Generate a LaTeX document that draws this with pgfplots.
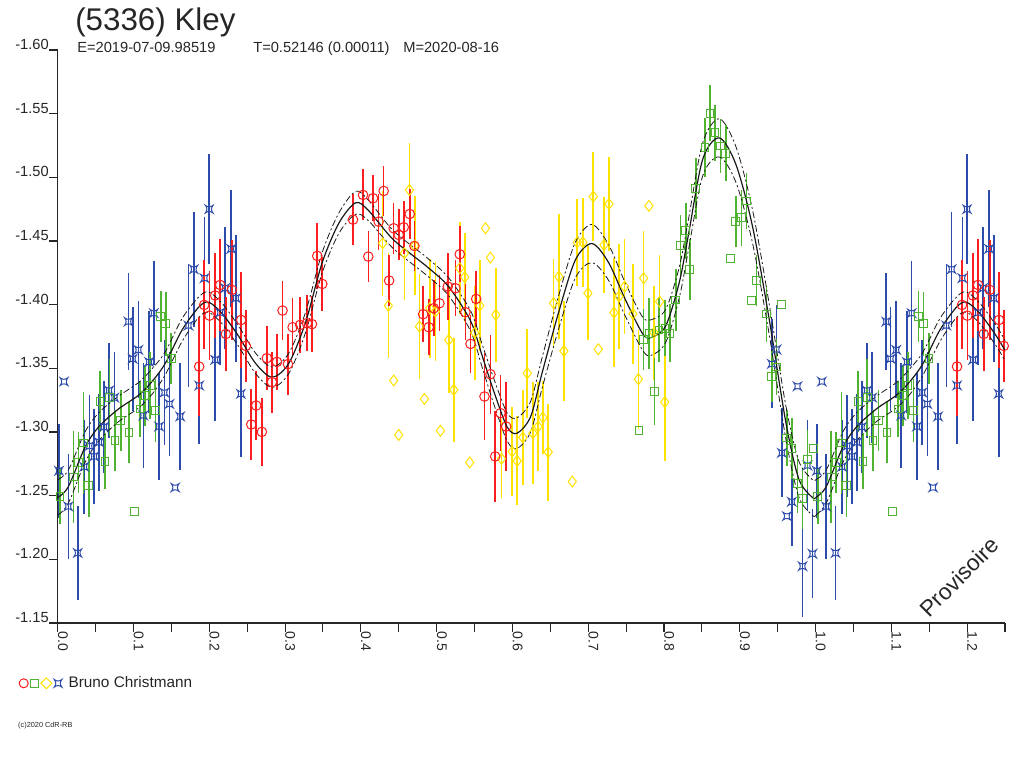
\documentclass[border=0pt]{standalone}
\usepackage{fontspec}
\setmainfont{Liberation Sans}
\usepackage{pgfplots}
\usepackage{pgfplotstable}
\pgfplotsset{compat=1.18}

\definecolor{cred}{RGB}{250,30,30}
\definecolor{cgreen}{RGB}{80,180,50}
\definecolor{cyellow}{RGB}{255,226,0}
\definecolor{cblue}{RGB}{45,75,170}

\pgfdeclareplotmark{astar}{%
  \pgfpathmoveto{\pgfqpoint{-\pgfplotmarksize}{-\pgfplotmarksize}}%
  \pgfpathcurveto{\pgfqpoint{-0.3\pgfplotmarksize}{-0.45\pgfplotmarksize}}{\pgfqpoint{0.3\pgfplotmarksize}{-0.45\pgfplotmarksize}}{\pgfqpoint{\pgfplotmarksize}{-\pgfplotmarksize}}%
  \pgfpathcurveto{\pgfqpoint{0.45\pgfplotmarksize}{-0.3\pgfplotmarksize}}{\pgfqpoint{0.45\pgfplotmarksize}{0.3\pgfplotmarksize}}{\pgfqpoint{\pgfplotmarksize}{\pgfplotmarksize}}%
  \pgfpathcurveto{\pgfqpoint{0.3\pgfplotmarksize}{0.45\pgfplotmarksize}}{\pgfqpoint{-0.3\pgfplotmarksize}{0.45\pgfplotmarksize}}{\pgfqpoint{-\pgfplotmarksize}{\pgfplotmarksize}}%
  \pgfpathcurveto{\pgfqpoint{-0.45\pgfplotmarksize}{0.3\pgfplotmarksize}}{\pgfqpoint{-0.45\pgfplotmarksize}{-0.3\pgfplotmarksize}}{\pgfqpoint{-\pgfplotmarksize}{-\pgfplotmarksize}}%
  \pgfpathclose\pgfusepathqstroke}

\pgfplotstableread{
x y e
0.0017 -1.2695 0.037
0.0083 -1.3396 0
0.0140 -1.2415 0.041
0.0264 -1.2050 0.037
0.0350 -1.2727 0.037
0.0418 -1.2890 0.040
0.0480 -1.2808 0.037
0.0546 -1.2920 0.038
0.0610 -1.3040 0.036
0.0678 -1.3326 0.037
0.0748 -1.3270 0.036
0.0933 -1.3867 0.038
0.0990 -1.3575 0.041
0.1065 -1.3645 0.038
0.1130 -1.3130 0.041
0.1206 -1.3550 0.040
0.1268 -1.3933 0.041
0.1338 -1.3043 0.042
0.1408 -1.3310 0.041
0.1475 -1.3220 0.041
0.1550 -1.2564 0
0.1616 -1.3122 0.042
0.1726 -1.3836 0.048
0.1796 -1.4278 0.045
0.1867 -1.3365 0.046
0.1937 -1.4208 0.048
0.1999 -1.4750 0.043
0.2078 -1.3567 0.048
0.2144 -1.3938 0.041
0.2210 -1.4130 0.048
0.2289 -1.4438 0.046
0.2351 -1.4051 0.050
0.2417 -1.3300 0.050
0.9423 -1.3535 0.035
0.9485 -1.3648 0.035
0.9555 -1.2836 0.035
0.9621 -1.2339 0
0.9687 -1.2452 0.035
0.9762 -1.3359 0
0.9828 -1.1946 0.040
0.9894 -1.2737 0.036
0.9960 -1.2044 0.035
}\blue

\pgfplotstableread{
x y e
0.0030 -1.2494 0.022
0.0206 -1.2646 0.036
0.0272 -1.2760 0.024
0.0343 -1.2913 0.040
0.0410 -1.2580 0.025
0.0559 -1.3240 0.024
0.0625 -1.2769 0.022
0.0682 -1.3270 0.030
0.0757 -1.2933 0.024
0.0832 -1.3090 0.024
0.0942 -1.2996 0.024
0.1012 -1.2376 0
0.1087 -1.3180 0.022
0.1153 -1.3286 0.024
0.1220 -1.3365 0.026
0.1290 -1.3170 0.025
0.1360 -1.3907 0.020
0.1426 -1.3850 0.025
0.1497 -1.3575 0.020
0.7670 -1.3009 0
0.7732 -1.3729 0.024
0.7802 -1.3776 0.028
0.7873 -1.3318 0.026
0.7934 -1.3802 0.025
0.8013 -1.3815 0.022
0.8079 -1.3776 0.023
0.8155 -1.4037 0.024
0.8220 -1.4464 0.024
0.8287 -1.4582 0.022
0.8340 -1.4275 0.024
0.8419 -1.4914 0.024
0.8542 -1.5233 0.023
0.8608 -1.5503 0.022
0.8674 -1.5351 0.022
0.8745 -1.5246 0.021
0.8815 -1.5189 0.022
0.8881 -1.4365 0
0.8947 -1.4652 0.020
0.9022 -1.4684 0.022
0.9089 -1.4815 0.022
0.9159 -1.4032 0
0.9220 -1.4190 0.020
0.9353 -1.3926 0.022
0.9423 -1.3438 0.020
0.9485 -1.3511 0.022
0.9555 -1.4000 0
0.9621 -1.2954 0.022
0.9687 -1.2868 0.024
0.9762 -1.2593 0.023
0.9828 -1.2475 0.024
0.9894 -1.2784 0.023
0.9969 -1.2868 0
}\green

\pgfplotstableread{
x y e
0.1867 -1.3514 0.039
0.1933 -1.3998 0.035
0.2003 -1.3914 0.035
0.2078 -1.4072 0.033
0.2144 -1.4155 0.036
0.2219 -1.3770 0.029
0.2298 -1.4116 0.039
0.2421 -1.3880 0.038
0.2483 -1.3676 0.028
0.2554 -1.3059 0.028
0.2620 -1.3208 0.027
0.2694 -1.3001 0.027
0.2760 -1.3580 0.025
0.2827 -1.3392 0.024
0.2893 -1.3551 0.022
0.2967 -1.3954 0.023
0.3038 -1.3533 0.024
0.3100 -1.3823 0.023
0.3200 -1.3841 0.022
0.3289 -1.3855 0.022
0.3355 -1.3847 0.022
0.3425 -1.4383 0.026
0.3491 -1.4163 0.021
0.3897 -1.4668 0.020
0.4029 -1.4862 0.020
0.4099 -1.4378 0.020
0.4161 -1.4836 0.018
0.4235 -1.4652 0.022
0.4301 -1.4893 0.020
0.4373 -1.4189 0.020
0.4433 -1.4600 0.020
0.4500 -1.4548 0.020
0.4566 -1.4608 0.021
0.4645 -1.4712 0.020
0.4707 -1.4461 0.020
0.4822 -1.3925 0.022
0.4896 -1.3823 0.022
0.4962 -1.3972 0.022
0.5037 -1.4011 0.022
0.5147 -1.4142 0.026
0.5248 -1.4129 0.022
0.5305 -1.4396 0.022
0.5380 -1.3941 0.022
0.5447 -1.3692 0.023
0.5522 -1.4045 0.022
0.5632 -1.3279 0.034
0.5710 -1.3454 0.031
0.5773 -1.2808 0.036
0.5843 -1.3148 0.030
0.5918 -1.3043 0.035
}\red

\pgfplotstableread{
x y e
0.4288 -1.4482 0.041
0.4363 -1.3992 0.041
0.4433 -1.3404 0
0.4500 -1.2977 0
0.4575 -1.4404 0.037
0.4641 -1.4901 0.037
0.4711 -1.4464 0.039
0.4773 -1.3828 0.041
0.4839 -1.3260 0
0.4909 -1.3972 0.039
0.4984 -1.3945 0.039
0.5050 -1.3010 0
0.5160 -1.3723 0.042
0.5226 -1.3331 0.041
0.5305 -1.4286 0.036
0.5371 -1.4216 0.035
0.5437 -1.2761 0
0.5503 -1.3780 0.037
0.5570 -1.3993 0.036
0.5645 -1.4600 0
0.5710 -1.4370 0
0.5781 -1.3920 0.037
0.5856 -1.2790 0.031
0.5997 -1.2847 0.035
0.6063 -1.2773 0.035
0.6138 -1.2957 0.037
0.6196 -1.3462 0.035
0.6270 -1.2991 0.040
0.6340 -1.3043 0.035
0.6402 -1.3114 0.029
0.6473 -1.2842 0.038
0.6543 -1.4012 0.035
0.6613 -1.4220 0.049
0.6679 -1.3637 0.039
0.6790 -1.2611 0
0.6856 -1.4490 0.034
0.6930 -1.4490 0.035
0.6996 -1.4090 0.037
0.7067 -1.4849 0.035
0.7133 -1.3650 0
0.7208 -1.4469 0.038
0.7274 -1.4791 0.037
0.7340 -1.3938 0.043
0.7406 -1.4064 0.041
0.7481 -1.4142 0.037
0.7590 -1.3928 0.039
0.7662 -1.3415 0.039
0.7732 -1.4208 0.037
0.7802 -1.4776 0
0.7868 -1.3780 0.037
0.7943 -1.4024 0.037
0.8010 -1.3235 0.046
}\yellow

\pgfplotstableread{
x m lo hi
0.000 -1.2485 -1.2625 -1.2345
0.014 -1.2570 -1.2700 -1.2440
0.036 -1.2880 -1.3000 -1.2760
0.054 -1.3040 -1.3150 -1.2930
0.080 -1.3180 -1.3280 -1.3080
0.107 -1.3290 -1.3390 -1.3190
0.125 -1.3400 -1.3500 -1.3300
0.142 -1.3540 -1.3630 -1.3450
0.164 -1.3800 -1.3890 -1.3710
0.186 -1.3980 -1.4060 -1.3900
0.199 -1.4020 -1.4100 -1.3940
0.217 -1.3930 -1.4010 -1.3850
0.239 -1.3750 -1.3830 -1.3670
0.261 -1.3540 -1.3620 -1.3460
0.283 -1.3430 -1.3510 -1.3350
0.305 -1.3540 -1.3620 -1.3460
0.327 -1.3860 -1.3940 -1.3780
0.349 -1.4330 -1.4410 -1.4250
0.371 -1.4640 -1.4720 -1.4560
0.393 -1.4800 -1.4890 -1.4710
0.410 -1.4740 -1.4820 -1.4660
0.443 -1.4510 -1.4580 -1.4440
0.487 -1.4300 -1.4370 -1.4230
0.516 -1.4140 -1.4210 -1.4070
0.545 -1.3870 -1.3950 -1.3790
0.560 -1.3600 -1.3690 -1.3510
0.576 -1.3310 -1.3410 -1.3210
0.593 -1.3040 -1.3150 -1.2930
0.606 -1.2990 -1.3110 -1.2870
0.624 -1.3120 -1.3240 -1.3000
0.639 -1.3460 -1.3580 -1.3340
0.661 -1.3940 -1.4070 -1.3810
0.683 -1.4350 -1.4490 -1.4210
0.705 -1.4480 -1.4630 -1.4330
0.727 -1.4330 -1.4470 -1.4190
0.749 -1.4040 -1.4170 -1.3910
0.771 -1.3780 -1.3910 -1.3650
0.782 -1.3740 -1.3880 -1.3600
0.802 -1.3830 -1.3960 -1.3700
0.820 -1.4170 -1.4290 -1.4050
0.832 -1.4540 -1.4660 -1.4420
0.851 -1.5140 -1.5270 -1.5010
0.873 -1.5310 -1.5460 -1.5160
0.895 -1.5100 -1.5240 -1.4960
0.917 -1.4610 -1.4740 -1.4480
0.939 -1.3880 -1.4000 -1.3760
0.961 -1.3070 -1.3200 -1.2940
0.978 -1.2630 -1.2770 -1.2490
0.996 -1.2485 -1.2625 -1.2345
1.000 -1.2485 -1.2625 -1.2345
}\curve

\begin{document}
\begin{tikzpicture}
\path[use as bounding box] (-43.275pt,-108.75pt) rectangle (724.725pt,467.25pt);
\begin{axis}[
  scale only axis, width=710.475pt, height=429.75pt,
  xmin=0, xmax=1.25, ymin=-1.60, ymax=-1.15, y dir=reverse,
  axis x line*=bottom, axis y line*=left,
  axis line style={line width=0.8pt, black!85},
  xtick={0,0.1,0.2,0.3,0.4,0.5,0.6,0.7,0.8,0.9,1.0,1.1,1.2},
  xticklabels={0.0,0.1,0.2,0.3,0.4,0.5,0.6,0.7,0.8,0.9,1.0,1.1,1.2},
  minor xtick={0.05,0.15,0.25,0.35,0.45,0.55,0.65,0.75,0.85,0.95,1.05,1.15,1.25},
  ytick={-1.60,-1.55,-1.50,-1.45,-1.40,-1.35,-1.30,-1.25,-1.20,-1.15},
  yticklabels={-1.60,-1.55,-1.50,-1.45,-1.40,-1.35,-1.30,-1.25,-1.20,-1.15},
  tick align=outside, major tick length=6.5pt, minor tick length=6.5pt,
  tick style={line width=0.8pt, black!85},
  /pgf/number format/assume math mode=true,
  xticklabel style={font=\fontsize{10.5}{12}\selectfont, color=black!85, rotate=-90, anchor=south west, inner sep=0pt},
  yticklabel style={font=\fontsize{11}{13}\selectfont, color=black!85, anchor=south east, inner sep=0pt},
  clip=true,
  legend style={at={(axis description cs:-0.0415,-0.1052)}, anchor=west, draw=none, fill=none, inner sep=0pt,
     nodes={inner sep=0pt}, font=\fontsize{11.5}{13}\selectfont, text=black!85,
     /tikz/every odd column/.append style={column sep=5pt}},
]
\addlegendimage{legend image code/.code={
  \draw[cred, line width=0.75pt] (3.4pt,0pt) circle (3.4pt);
  \draw[cgreen, line width=0.75pt] (8.7pt,-2.9pt) rectangle (14.5pt,2.9pt);
  \draw[cyellow, line width=0.75pt] (16.3pt,0pt) -- (20.4pt,4.1pt) -- (24.5pt,0pt) -- (20.4pt,-4.1pt) -- cycle;
  \begin{scope}[shift={(29.2pt,0pt)}]
    \pgfsetlinewidth{0.75pt}\pgfsetstrokecolor{cblue}\pgfsetplotmarksize{2.9pt}\pgfuseplotmark{astar}
  \end{scope}
}}
\addlegendentry{Bruno Christmann}

% yellow
\addplot[only marks, mark=diamond, mark size=4.1pt, cyellow, mark options={line width=0.75pt, fill=none},
  error bars/.cd, y dir=both, y explicit, error mark=none, error bar style={line width=1.2pt, cyellow}]
  table[x=x, y=y, y error=e] {\yellow};
% blue
\addplot[only marks, mark=astar, mark size=2.9pt, cblue, mark options={line width=0.75pt},
  error bars/.cd, y dir=both, y explicit, error mark=none, error bar style={line width=1.2pt, cblue}]
  table[x=x, y=y, y error=e] {\blue};
\addplot[only marks, mark=astar, mark size=2.9pt, cblue, mark options={line width=0.75pt},
  error bars/.cd, y dir=both, y explicit, error mark=none, error bar style={line width=1.2pt, cblue}]
  table[x expr=\thisrow{x}+1, y=y, y error=e] {\blue};
% green
\addplot[only marks, mark=square, mark size=2.9pt, cgreen, mark options={line width=0.75pt, fill=none},
  error bars/.cd, y dir=both, y explicit, error mark=none, error bar style={line width=1.2pt, cgreen}]
  table[x=x, y=y, y error=e] {\green};
\addplot[only marks, mark=square, mark size=2.9pt, cgreen, mark options={line width=0.75pt, fill=none},
  error bars/.cd, y dir=both, y explicit, error mark=none, error bar style={line width=1.2pt, cgreen}]
  table[x expr=\thisrow{x}+1, y=y, y error=e] {\green};
% red
\addplot[only marks, mark=o, mark size=3.6pt, cred, mark options={line width=0.75pt},
  error bars/.cd, y dir=both, y explicit, error mark=none, error bar style={line width=1.2pt, cred}]
  table[x=x, y=y, y error=e] {\red};
\addplot[only marks, mark=o, mark size=3.6pt, cred, mark options={line width=0.75pt},
  error bars/.cd, y dir=both, y explicit, error mark=none, error bar style={line width=1.2pt, cred}]
  table[x expr=\thisrow{x}+1, y=y, y error=e] {\red};
% fit curves
\addplot[black!90, line width=0.9pt, smooth, no marks] table[x=x, y=m] {\curve};
\addplot[black!90, line width=0.9pt, smooth, no marks] table[x expr=\thisrow{x}+1, y=m] {\curve};
\addplot[black!90, line width=0.6pt, smooth, no marks, dash pattern=on 5pt off 2pt on 1.5pt off 2pt] table[x=x, y=lo] {\curve};
\addplot[black!90, line width=0.6pt, smooth, no marks, dash pattern=on 5pt off 2pt on 1.5pt off 2pt] table[x expr=\thisrow{x}+1, y=lo] {\curve};
\addplot[black!90, line width=0.6pt, smooth, no marks, dash pattern=on 5pt off 2pt on 1.5pt off 2pt] table[x=x, y=hi] {\curve};
\addplot[black!90, line width=0.6pt, smooth, no marks, dash pattern=on 5pt off 2pt on 1.5pt off 2pt] table[x expr=\thisrow{x}+1, y=hi] {\curve};

\node[rotate=45, font=\fontsize{17}{20}\selectfont, text=black!85] at (axis cs:1.1893,-1.1863) {Provisoire};
\end{axis}
\node[anchor=base west, font=\fontsize{23.5}{28}\selectfont, text=black!85, inner sep=0pt] at (13pt,444pt) {(5336) Kley};
\node[anchor=base west, font=\fontsize{11}{13}\selectfont, text=black!85, inner sep=0pt] at (14.5pt,427.5pt) {E=2019-07-09.98519};
\node[anchor=base west, font=\fontsize{11}{13}\selectfont, text=black!85, inner sep=0pt] at (146.5pt,427.5pt) {T=0.52146 (0.00011)};
\node[anchor=base west, font=\fontsize{11}{13}\selectfont, text=black!85, inner sep=0pt] at (259pt,427.5pt) {M=2020-08-16};
\node[anchor=base west, font=\fontsize{5.5}{6}\selectfont, text=black!85, inner sep=0pt] at (-29.8pt,-78pt) {(c)2020 CdR-RB};
\end{tikzpicture}
\end{document}
